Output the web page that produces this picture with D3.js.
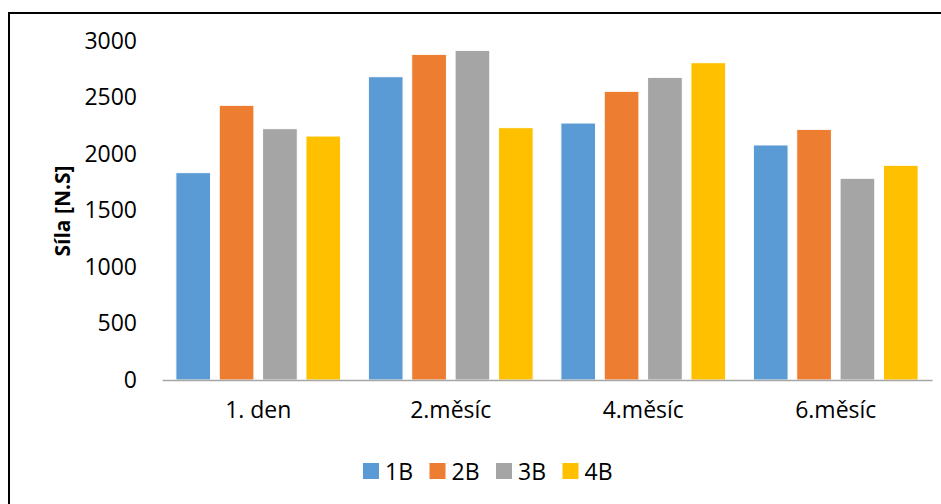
<!DOCTYPE html>
<html>
<head>
<meta charset="utf-8">
<script src="https://cdn.jsdelivr.net/npm/d3@7"></script>
<style>
  html, body { margin: 0; padding: 0; background: #fff; }
  svg { display: block; }
  text { font-family: "Open Sans", "Noto Sans", sans-serif; fill: #000; }
</style>
</head>
<body>
<svg id="chart" width="941" height="504"></svg>
<script>
// Measured force per period, one array per group
const categories = ["1. den", "2.měsíc", "4.měsíc", "6.měsíc"];
const seriesNames = ["1B", "2B", "3B", "4B"];
const values1B = [1835, 2684, 2274, 2080];
const values2B = [2431, 2882, 2555, 2218];
const values3B = [2224, 2917, 2678, 1785];
const values4B = [2159, 2233, 2808, 1900];
const yTicks = [0, 500, 1000, 1500, 2000, 2500, 3000];
const colors = ["#5B9BD5", "#ED7D31", "#A5A5A5", "#FFC000"];
const yTitle = "Síla [N.S]";

const seriesValues = [values1B, values2B, values3B, values4B];
const rows = categories.map((c, i) => ({
  category: c,
  bars: seriesNames.map((s, j) => ({ series: s, value: seriesValues[j][i], color: colors[j] }))
}));

const svg = d3.select("#chart");

// Outer frame (runs off the right and bottom edges)
svg.append("rect")
  .attr("x", 9).attr("y", 13)
  .attr("width", 960).attr("height", 520)
  .attr("fill", "none").attr("stroke", "#000").attr("stroke-width", 2);

const plot = { left: 162, right: 932, top: 41, bottom: 380 };

const x0 = d3.scaleBand().domain(categories).range([plot.left, plot.right]).padding(0);
const x1 = d3.scaleBand().domain(seriesNames).range([0, x0.bandwidth()])
  .paddingInner(0.2).paddingOuter(0.32);
const y = d3.scaleLinear().domain([0, 3000]).range([plot.bottom, plot.top]);

// Bars
const groups = svg.append("g").selectAll("g").data(rows).join("g")
  .attr("transform", d => `translate(${x0(d.category)},0)`);
groups.selectAll("rect").data(d => d.bars).join("rect")
  .attr("x", d => x1(d.series))
  .attr("y", d => y(d.value))
  .attr("width", x1.bandwidth())
  .attr("height", d => y(0) - y(d.value))
  .attr("fill", d => d.color)
  .attr("stroke", "#fff").attr("stroke-width", 1);

// Y axis labels (no line, no ticks)
const yAxis = svg.append("g")
  .attr("transform", `translate(${plot.left},0)`)
  .call(d3.axisLeft(y).tickValues(yTicks).tickSize(0).tickPadding(25).tickFormat(d3.format("d")));
yAxis.select(".domain").remove();
yAxis.selectAll("text")
  .style("font-family", "\"Open Sans\", sans-serif")
  .style("font-size", "23px").attr("fill", "#000");

// X axis
const xAxis = svg.append("g")
  .attr("transform", `translate(0,${plot.bottom})`)
  .call(d3.axisBottom(x0).tickSize(0).tickPadding(22));
xAxis.select(".domain").attr("stroke", "#a6a6a6").attr("stroke-width", 1.5);
xAxis.selectAll("text")
  .style("font-family", "\"Open Sans\", sans-serif")
  .style("font-size", "23px").attr("fill", "#000");

// Y axis title
svg.append("text")
  .attr("transform", "translate(62,211) rotate(-90)")
  .attr("text-anchor", "middle")
  .attr("dominant-baseline", "central")
  .style("font-size", "21px")
  .style("font-weight", "bold")
  .text(yTitle);

// Legend
const legend = svg.append("g").attr("transform", "translate(363,471)");
const items = legend.selectAll("g").data(seriesNames).join("g")
  .attr("transform", (d, i) => `translate(${i * 66.5},0)`);
items.append("rect")
  .attr("x", 0).attr("y", -8).attr("width", 16).attr("height", 16)
  .attr("fill", (d, i) => colors[i]);
items.append("text")
  .attr("x", 22).attr("y", 0)
  .attr("dominant-baseline", "central")
  .style("font-size", "23px")
  .text(d => d);
</script>
</body>
</html>
